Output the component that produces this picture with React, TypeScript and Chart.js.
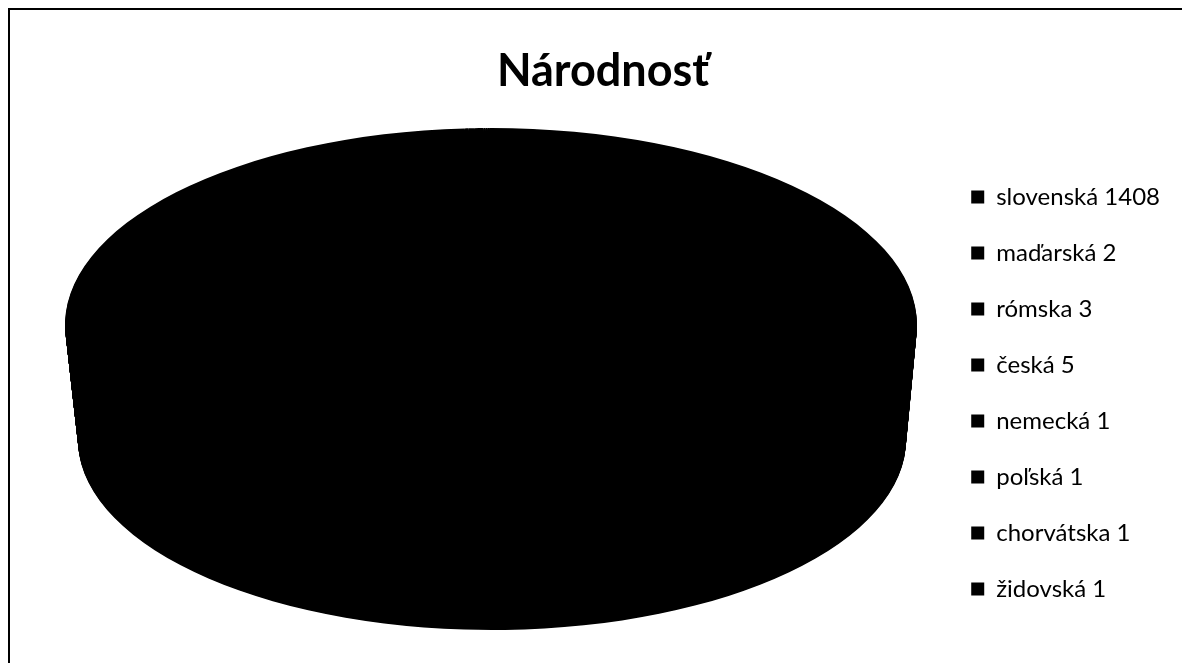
import React, { useEffect, useRef } from "react";
import { Chart, registerables } from "chart.js";

Chart.register(...registerables);

const CATEGORIES = ["slovenská", "maďarská", "rómska", "česká", "nemecká", "poľská", "chorvátska", "židovská"];
const COUNTS = [1408, 2, 3, 5, 1, 1, 1, 1];
const TITLE = "Národnosť";

// ellipse geometry of the 3D pie (canvas px)
const TOP_FACE = { cx: 481, cy: 315, rx: 426, ry: 197 };
const BOTTOM_FACE = { cx: 482, cy: 430, rx: 414, ry: 190 };

const pie3d = {
  id: "pie3d",
  beforeDatasetsDraw(chart: any) {
    const meta = chart.getDatasetMeta(0);
    const ctx = chart.ctx as CanvasRenderingContext2D;
    const arcs = meta.data;
    if (!arcs.length) return false;
    const { x, y, outerRadius: R } = arcs[0] as any;
    const drawAt = (f: { cx: number; cy: number; rx: number; ry: number }) => {
      ctx.save();
      ctx.translate(f.cx, f.cy);
      ctx.scale(f.rx / R, f.ry / R);
      ctx.translate(-x, -y);
      arcs.forEach((a: any) => a.draw(ctx));
      ctx.restore();
    };
    const steps = 140;
    for (let i = steps; i >= 1; i--) {
      const t = i / steps;
      drawAt({
        cx: TOP_FACE.cx + (BOTTOM_FACE.cx - TOP_FACE.cx) * t,
        cy: TOP_FACE.cy + (BOTTOM_FACE.cy - TOP_FACE.cy) * t,
        rx: TOP_FACE.rx + (BOTTOM_FACE.rx - TOP_FACE.rx) * t,
        ry: TOP_FACE.ry + (BOTTOM_FACE.ry - TOP_FACE.ry) * t,
      });
    }
    drawAt(TOP_FACE);
    return false;
  },
};

export default function App() {
  const ref = useRef<HTMLCanvasElement | null>(null);
  useEffect(() => {
    if (!ref.current) return;
    const chart = new Chart(ref.current, {
      type: "pie",
      data: {
        labels: CATEGORIES,
        datasets: [
          {
            data: COUNTS,
            backgroundColor: "#000000",
            borderColor: "#000000",
            borderWidth: 0,
          },
        ],
      },
      options: {
        animation: false,
        responsive: false,
        layout: { padding: { left: 26, right: 20, bottom: 10 } },
        plugins: {
          tooltip: { enabled: false },
          title: {
            display: true,
            text: TITLE,
            color: "#000",
            font: { family: "Lato", size: 45, weight: "bold" },
            padding: { top: 34, bottom: 55 },
          },
          legend: {
            position: "right",
            align: "start",
            fullSize: false,
            labels: {
              color: "#000",
              font: { family: "Lato", size: 24 },
              boxWidth: 13,
              boxHeight: 13,
              padding: 32,
              generateLabels: () =>
                CATEGORIES.map((c, i) => ({
                  text: `${c} ${COUNTS[i]}`,
                  fillStyle: "#000",
                  strokeStyle: "#000",
                  lineWidth: 0,
                  hidden: false,
                  index: i,
                  fontColor: "#000",
                })),
            },
          },
        },
      },
      plugins: [pie3d],
    });
    return () => chart.destroy();
  }, []);
  return (
    <div
      style={{
        width: 1180,
        height: 653,
        borderTop: "2px solid #000",
        borderLeft: "2px solid #000",
        background: "#fff",
      }}
    >
      <canvas ref={ref} width={1180} height={653} style={{ display: "block" }} />
    </div>
  );
}
